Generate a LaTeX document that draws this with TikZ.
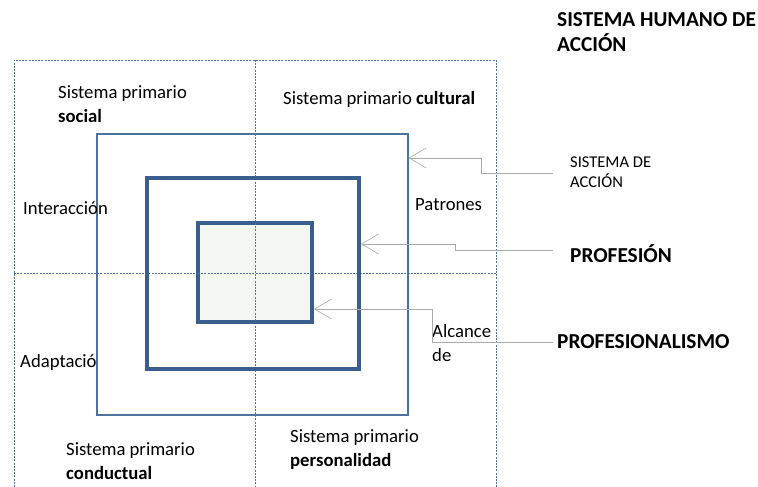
\documentclass[tikz,border=0pt]{standalone}
\usepackage{fontspec}
\setmainfont{Carlito}
\usetikzlibrary{arrows.meta}
\definecolor{boxblue}{RGB}{59,94,145}
\definecolor{thinblue}{RGB}{79,113,160}
\definecolor{arrgray}{RGB}{170,170,170}
\definecolor{innerfill}{RGB}{243,246,241}
\tikzset{
	grid/.style={thinblue, line width=0.8pt, dash pattern=on 2pt off 1.2pt},
	box/.style={draw=boxblue, line width=4pt, inner sep=0pt},
	txt/.style={font=\fontsize{18.7}{24}\selectfont, anchor=west, align=left, inner sep=0pt},
	big/.style={font=\fontsize{21.3}{25}\selectfont\bfseries, anchor=west, align=left, inner sep=0pt},
	arr/.style={arrgray, line width=0.8pt, -{Straight Barb[length=17pt, width=20pt, line width=0.6pt]}}
}
\begin{document}
\begin{tikzpicture}[x=1pt, y=-1pt]
	\useasboundingbox (0,0) rectangle (758,487);
	\draw[grid] (14,487) -- (14,60) -- (496,60) -- (496,487);
	\draw[grid] (255,60) -- (255,487);
	\draw[grid] (14,273) -- (496,273);
	\node[draw=thinblue, line width=1.2pt, inner sep=0pt, minimum width=311pt, minimum height=281pt] (mid) at (252.5,274.5) {};
	\node[box, minimum width=212pt, minimum height=191pt] (thick) at (253,273.5) {};
	\node[box, fill=innerfill, minimum width=114pt, minimum height=99pt] (inner) at (255,272.5) {};
	\draw[grid] (255,223) -- (255,322);
	\draw[grid] (198,273) -- (312,273);
	\node[txt] (social) at (58,104) {Sistema primario\\\textbf{social}};
	\node[txt] (cultural) at (283,99) {Sistema primario \textbf{cultural}};
	\node[txt] (inter) at (23,208) {Interacción};
	\node[txt] (patr) at (415,205) {Patrones};
	\node[txt] (adap) at (20,363) {Adaptació};
	\node[txt] (alc) at (432,343) {Alcance\\de};
	\node[txt] (cond) at (66,461.5) {Sistema primario\\\textbf{conductual}};
	\node[txt] (pers) at (290,449.5) {Sistema primario\\\textbf{personalidad}};
	\node[big] (titulo) at (557,32.5) {SISTEMA HUMANO DE\\ACCIÓN};
	\node[txt, font=\fontsize{16.5}{20}\selectfont] (accion) at (570,172) {SISTEMA DE\\ACCIÓN};
	\node[big] (prof) at (570,254) {PROFESIÓN};
	\node[big] (profismo) at (557,342) {PROFESIONALISMO};
	\coordinate (c1) at (553,173);
	\coordinate (c2) at (553,250);
	\coordinate (c3) at (553,342);
	\draw[arr] (c1) -- (481,173) -- (481,158) -- ([yshift=116.5pt]mid.east);
	\draw[arr] (c2) -- (455,250) -- (455,244) -- ([yshift=29.5pt]thick.east);
	\draw[arr] (c3) -- (432,342) -- (432,309) -- ([yshift=-36.5pt]inner.east);
\end{tikzpicture}
\end{document}
